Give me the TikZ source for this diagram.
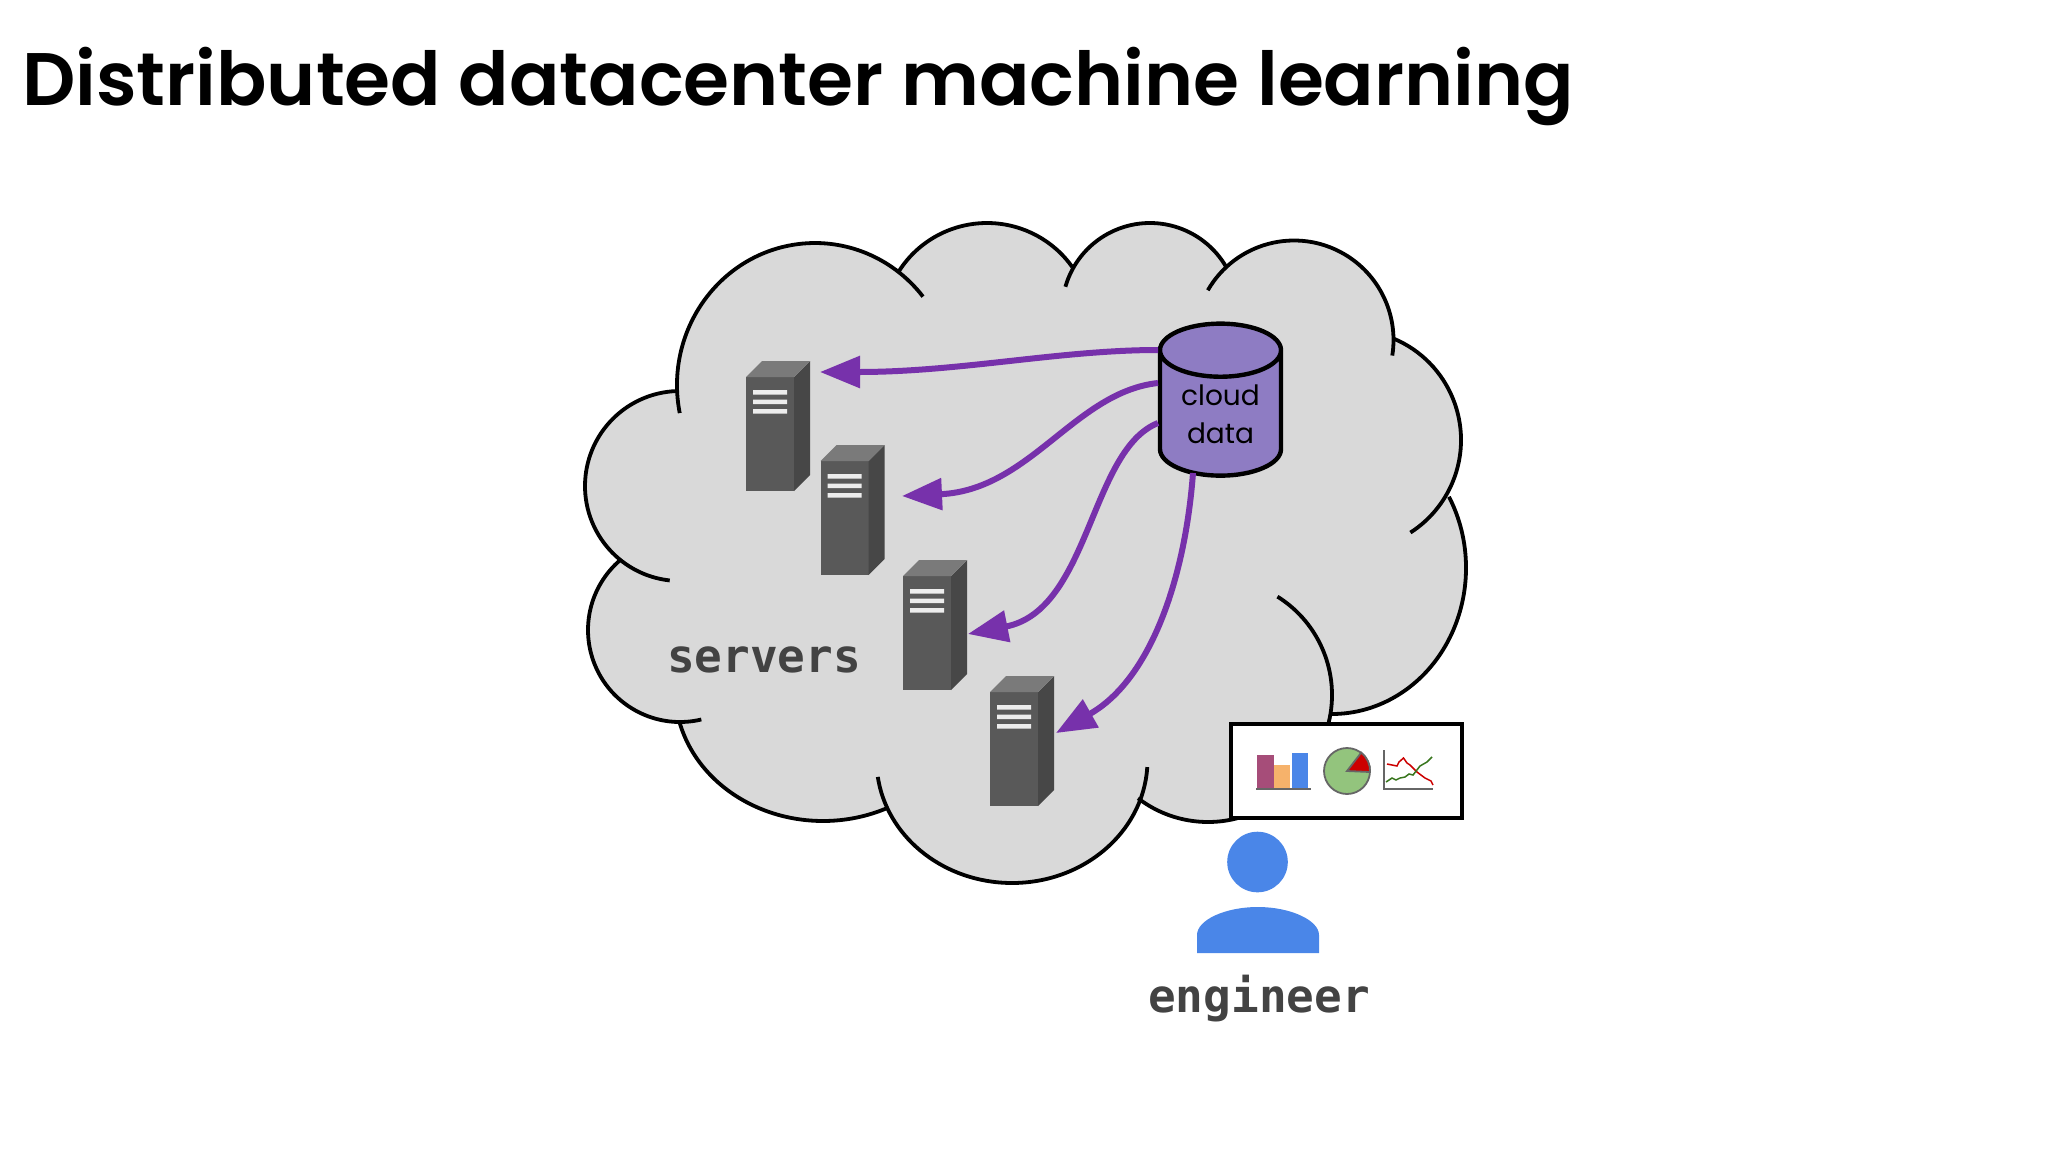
\documentclass[tikz,border=0pt]{standalone}
\usepackage{fontspec}
\setmainfont{Poppins}[BoldFont=Poppins SemiBold]
\newfontfamily\monofont{DejaVu Sans Mono}
\usetikzlibrary{arrows.meta,shapes.geometric}

\definecolor{cloudgray}{HTML}{D9D9D9}
\definecolor{flowpurple}{HTML}{7731AB}
\definecolor{dbpurple}{HTML}{8E7CC3}
\definecolor{personblue}{HTML}{4A86E8}
\definecolor{labelgray}{HTML}{434343}
\definecolor{barplum}{HTML}{A64D79}
\definecolor{barorange}{HTML}{F6B26B}
\definecolor{piegreen}{HTML}{93C47D}
\definecolor{chartred}{HTML}{CC0000}
\definecolor{chartgreen}{HTML}{38761D}

\tikzset{
  cloudfill/.style={fill=cloudgray,draw=cloudgray,line width=1.5pt},
  cloudline/.style={draw=black,line width=3.8pt},
  flow/.style={flowpurple,line width=6pt,-{Triangle[length=40pt,width=31pt]}},
  srvfront/.style={rectangle,fill=black!65,minimum width=48pt,minimum height=114pt,inner sep=0pt,outer sep=0pt},
  lbl/.style={font=\monofont\bfseries\fontsize{46}{46}\selectfont,text=labelgray,inner sep=0pt,anchor=base},
  iconline/.style={line width=1.8pt,black!60}
}

% the lobes of the cloud: centre x, y, radii x, y, start and end angle
\newcommand\cloudlobes[1]{
  #1{815}{385}{138}{142}{168.6}{321.5}
  #1{987}{326}{104}{103}{212}{325}
  #1{1150}{311}{88}{88}{196}{330}
  #1{1294}{340}{99.5}{99.5}{210}{369}
  #1{1351}{440}{110}{110}{-67.3}{57.3}
  #1{1332}{568}{134}{146}{-29.2}{90}
  #1{1216}{695}{116}{116}{-58}{14}
  #1{1208}{707}{115}{115}{127.5}{72.5}
  #1{1012}{760}{135.5}{123}{3.3}{172.1}
  #1{823}{690}{148}{131}{64.8}{166}
  #1{680}{630}{92}{92}{76.6}{229}
  #1{680}{486}{95}{95}{96.2}{268}
}
\newcommand\lobefill[6]{\path[cloudfill] ([shift={(#1,#2)}]#5:#3 and #4) arc[start angle=#5,end angle=#6,x radius=#3,y radius=#4] -- cycle;}
\newcommand\lobeline[6]{\draw[cloudline] ([shift={(#1,#2)}]#5:#3 and #4) arc[start angle=#5,end angle=#6,x radius=#3,y radius=#4];}

% name, left and top of the front face
\newcommand\serverbox[3]{
  \begin{scope}[shift={(#2,#3)}]
    \node[srvfront] (srv#1) at (24,57) {};
    \fill[black!72] (48,0) -- (64,-16) -- (64,98) -- (48,114) -- cycle;
    \fill[black!52] (0,0) -- (16,-16) -- (64,-16) -- (48,0) -- cycle;
    \fill[black!7] (7,13) rectangle (41,17.5) (7,22.5) rectangle (41,27) (7,32) rectangle (41,36.5);
  \end{scope}
}

\begin{document}
\begin{tikzpicture}[x=1pt,y=-1pt]
  \useasboundingbox (0,0) rectangle (2048,1152);

  \node[font=\bfseries\fontsize{74.4}{74}\selectfont,anchor=base west,inner sep=0pt] (title) at (22,105.5) {Distributed datacenter machine learning};

  % cloud
  \path[cloudfill] (677,392) -- (900,272) -- (1073,265) -- (1225,267) -- (1394,337) -- (1447,498)
    -- (1332,714) -- (1243,818) -- (1139,797) -- (886,809) -- (680,725) -- (619,560) -- cycle;
  \cloudlobes\lobefill
  \cloudlobes\lobeline

  \serverbox{1}{746}{377}
  \serverbox{2}{820.5}{461}
  \serverbox{3}{903}{576}
  \serverbox{4}{990}{692}

  \node[lbl] (servers) at (764,672) {servers};

  \node[cylinder,shape border rotate=90,aspect=0.675,draw=black,line width=4.4pt,fill=dbpurple,
        minimum width=121pt,minimum height=152pt,inner sep=0pt,outer sep=0pt,align=center,
        font=\fontsize{28}{38}\selectfont] (db) at (1220.5,414) {cloud\\data};

  \draw[flow] ([shift={(-2,-64)}]db.west) .. controls (1060,350) and (960,372) .. ([shift={(26,-62)}]srv1.east);
  \draw[flow] ([shift={(-2,-31)}]db.west) .. controls (1075,392) and (1030,490) .. ([shift={(33.5,-22)}]srv2.east);
  \draw[flow] ([shift={(-2,9)}]db.west) .. controls (1090,450) and (1090,610) .. ([shift={(17,1)}]srv3.east);
  \draw[flow] ([shift={(33,59)}]db.west) .. controls (1185,580) and (1150,680) .. ([shift={(18,-16)}]srv4.east);

  % chart box
  \node[draw=black,line width=3.8pt,fill=white,rectangle,minimum width=231pt,minimum height=94pt,inner sep=0pt,outer sep=0pt] (charts) at (1346.5,771) {};
  \fill[barplum] (1257,755) rectangle (1274,788);
  \fill[barorange] (1274,765) rectangle (1290,788);
  \fill[personblue] (1292,753) rectangle (1308,788);
  \draw[iconline] (1256,789) -- (1311,789);
  \draw[iconline,fill=piegreen] (1347,771) circle (23);
  \draw[iconline,fill=chartred] (1347,771) -- (1370,772) arc (3:-52:23) -- cycle;
  \draw[iconline] (1384,750) -- (1384,789) -- (1433,789);
  \draw[line width=1.5pt,chartred] (1387,764) -- (1392,765) -- (1397,766) -- (1399,762) -- (1403.5,758) -- (1407,763) -- (1410,765) -- (1417,772) -- (1425,778) -- (1431,781) -- (1433,785);
  \draw[line width=1.5pt,chartgreen] (1386,782) -- (1392,778) -- (1396,780) -- (1400,778) -- (1405,777) -- (1409,774) -- (1413,775) -- (1420,766) -- (1427,762) -- (1432,757);

  % engineer
  \node[circle,fill=personblue,minimum size=60.6pt,inner sep=0pt,outer sep=0pt] (head) at (1257.5,862) {};
  \fill[personblue] (1197,953) -- (1197,935) .. controls (1197,920) and (1225,907) .. (1258,907)
    .. controls (1290,907) and (1319,920) .. (1319,935) -- (1319,953) -- cycle;
  \node[lbl] (engineer) at (1259,1012) {engineer};
\end{tikzpicture}
\end{document}
